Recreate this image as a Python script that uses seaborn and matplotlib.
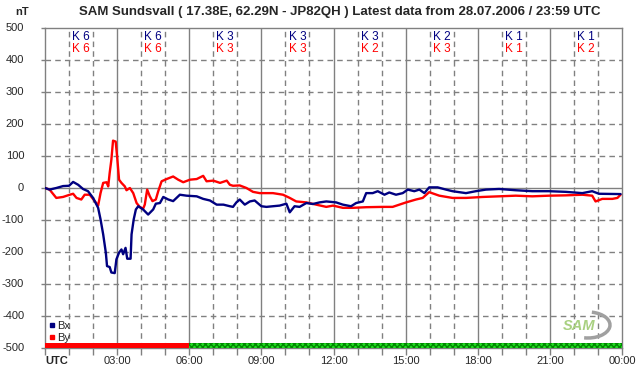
import numpy as np
import pandas as pd
import matplotlib
matplotlib.use('Agg')
import matplotlib.pyplot as plt
import seaborn as sns
from matplotlib.lines import Line2D
from matplotlib.patches import Arc

# Magnetometer readings (hours UTC, nT)
bx_hours = [0.00, 0.19, 0.47, 0.75, 1.00, 1.17, 1.38, 1.58, 1.79, 2.00, 2.21, 2.31, 2.42, 2.53,
            2.58, 2.69, 2.76, 2.90, 2.97, 3.08, 3.18, 3.25, 3.35, 3.42, 3.56, 3.60, 3.69, 3.78,
            3.88, 4.08, 4.29, 4.50, 4.61, 4.78, 4.92, 5.13, 5.33, 5.61, 5.89, 6.31, 6.58, 6.86,
            7.14, 7.42, 7.69, 7.82, 7.96, 8.10, 8.31, 8.52, 8.72, 9.00, 9.21, 9.48, 9.76, 10.04,
            10.18, 10.38, 10.59, 10.87, 11.14, 11.42, 11.70, 12.11, 12.39, 12.73, 12.94, 13.22,
            13.36, 13.63, 13.84, 14.12, 14.32, 14.60, 14.88, 15.09, 15.36, 15.57, 15.78, 15.98,
            16.33, 16.68, 16.95, 17.51, 17.92, 18.34, 18.89, 19.58, 20.27, 20.96, 21.66, 22.35,
            22.76, 23.04, 23.94]
bx_values = [0, -5, 0, 6, 7, 19, 10, -3, -10, -31, -62, -98, -145, -202,
             -244, -247, -264, -266, -223, -202, -192, -207, -187, -221, -221, -145, -98, -67,
             -57, -67, -83, -67, -49, -47, -28, -36, -41, -21, -24, -26, -34, -39,
             -52, -52, -57, -59, -45, -36, -52, -42, -39, -57, -59, -57, -55, -49,
             -76, -57, -59, -47, -50, -45, -42, -45, -52, -57, -47, -42,
             -16, -16, -10, -21, -14, -21, -16, -5, -10, -5, -16, 2,
             2, -5, -10, -16, -10, -5, -3, -7, -10, -10, -12, -16,
             -10, -18, -19]

by_hours = [0.00, 0.19, 0.47, 0.75, 1.03, 1.17, 1.31, 1.51, 1.65, 1.86, 2.07, 2.21, 2.31, 2.42,
            2.56, 2.63, 2.69, 2.76, 2.83, 2.94, 3.00, 3.08, 3.18, 3.32, 3.39, 3.53, 3.67, 3.81,
            3.94, 4.08, 4.15, 4.25, 4.36, 4.47, 4.61, 4.71, 4.85, 5.06, 5.33, 5.54, 5.75, 6.03,
            6.31, 6.58, 6.72, 7.00, 7.28, 7.56, 7.69, 7.82, 8.10, 8.38, 8.65, 8.93, 9.48, 9.90,
            10.18, 10.45, 10.87, 11.28, 11.70, 11.98, 12.39, 12.80, 13.36, 14.05, 14.46, 14.74,
            15.02, 15.43, 15.71, 15.98, 16.40, 16.95, 17.51, 18.20, 18.89, 19.58, 20.27, 20.96,
            21.66, 22.35, 22.76, 22.90, 23.18, 23.60, 23.81, 23.94]
by_values = [0, -5, -31, -28, -21, -18, -31, -36, -21, -21, -41, -55, -16, 16,
             18, 5, 47, 88, 148, 145, 98, 26, 16, 5, -7, 0, -16, -47,
             -59, -65, -52, -5, -26, -41, -36, -10, 21, 28, 36, 26, 18, 26,
             28, 38, 21, 23, 16, 23, 10, 7, 8, 0, -12, -16, -16, -21,
             -31, -42, -45, -52, -59, -55, -62, -62, -60, -59, -59, -52,
             -45, -36, -31, -13, -24, -31, -31, -28, -26, -24, -26, -24,
             -23, -21, -24, -42, -34, -34, -31, -21]

# K indices per 3-hour block
k_bx = [6, 6, 3, 3, 3, 2, 1, 1]
k_by = [6, 6, 3, 3, 2, 3, 1, 2]

# Data status bar along bottom
status_start = [0, 6]
status_end = [6, 24]
status_colors = ['#ff0000', '#22dd22']

hour_labels = ['UTC', '03:00', '06:00', '09:00', '12:00', '15:00', '18:00', '21:00', '00:00']
y_ticks = list(range(-500, 501, 100))

df = pd.concat([
    pd.DataFrame({'hour': bx_hours, 'nT': bx_values, 'comp': 'Bx'}),
    pd.DataFrame({'hour': by_hours, 'nT': by_values, 'comp': 'By'}),
])

sns.set_style('white')
plt.rcParams['font.family'] = ['Liberation Sans', 'DejaVu Sans']

fig = plt.figure(figsize=(6.42, 3.76), dpi=100)
ax = fig.add_axes([45 / 642, 1 - 348 / 376, 577 / 642, 320 / 376])

grid_c = '#808080'
# grid
for h in range(1, 24):
    if h % 3 == 0:
        ax.axvline(h, color=grid_c, lw=1.0, zorder=1)
    else:
        ax.axvline(h, color=grid_c, lw=1.0, ls=(0, (4, 3)), zorder=1)
for v in y_ticks[1:-1]:
    if v == 0:
        ax.axhline(v, color=grid_c, lw=1.0, zorder=1)
    else:
        ax.axhline(v, color=grid_c, lw=1.0, ls=(0, (4, 3)), zorder=1)

sns.lineplot(data=df, x='hour', y='nT', hue='comp', palette={'Bx': '#000080', 'By': '#ff0000'},
             hue_order=['By', 'Bx'], lw=1.7, ax=ax, legend=False, zorder=3, estimator=None, sort=False)

# status bar
for s, e, c in zip(status_start, status_end, status_colors):
    if c == '#ff0000':
        ax.axvspan(s, e, ymin=0, ymax=5 / 320, color=c, lw=0, zorder=4)
    else:
        ax.axvspan(s, e, ymin=0, ymax=5 / 320, facecolor=c, edgecolor='#008800',
                   hatch='xxxxxx', lw=0, zorder=4)

# K labels
for i, (kx, ky) in enumerate(zip(k_bx, k_by)):
    xc = 1.5 + 3 * i
    ax.text(xc, 472, f'K {kx}', color='#000080', ha='center', va='center', fontsize=8.5, zorder=5)
    ax.text(xc, 434, f'K {ky}', color='#ff0000', ha='center', va='center', fontsize=8.5, zorder=5)

ax.set_xlim(0, 24)
ax.set_ylim(-500, 500)
ax.set_xticks(range(0, 25, 3))
ax.set_xticks(range(0, 25), minor=True)
ax.set_xticklabels(hour_labels)
first = ax.get_xticklabels()[0]
first.set_fontweight('bold')
first.set_horizontalalignment('left')
ax.set_yticks(y_ticks)
ax.set_yticklabels([str(v) for v in y_ticks])
ax.tick_params(axis='x', which='both', direction='out', length=5, width=1, color=grid_c,
               labelsize=8, pad=1, bottom=True)
ax.tick_params(axis='y', direction='out', length=3, width=1, color=grid_c, labelsize=8, pad=12, left=True)
for lab in ax.get_yticklabels():
    lab.set_verticalalignment('center')
ax.set_xlabel('')
ax.set_ylabel('')
for sp in ax.spines.values():
    sp.set_color(grid_c)
    sp.set_linewidth(1.0)

# legend
handles = [Line2D([], [], marker='s', ls='', color='#000080', markersize=3),
           Line2D([], [], marker='s', ls='', color='#ff0000', markersize=3)]
ax.legend(handles, ['Bx', 'By'], loc='lower left', bbox_to_anchor=(-0.006, -0.004), frameon=False,
          fontsize=8, handlelength=0.6, handletextpad=0.2, labelspacing=0.15, borderpad=0.1)

# logo
ax.add_patch(Arc((588 / 642, 1 - 325 / 376), 44 / 642, 26 / 376, theta1=-100, theta2=80,
                 transform=fig.transFigure, color='#a0a0a0', lw=2.5, zorder=5))
fig.text(579 / 642, 1 - 326 / 376, 'SAM', fontsize=10.5, style='italic', fontweight='bold',
         color='#a8d080', ha='center', va='center', zorder=6)

fig.text(22 / 642, 1 - 12 / 376, 'nT', fontsize=8, fontweight='bold', ha='center', va='center')
fig.text(340 / 642, 1 - 12 / 376,
         'SAM Sundsvall ( 17.38E, 62.29N - JP82QH ) Latest data from 28.07.2006 / 23:59 UTC',
         fontsize=9.5, fontweight='bold', ha='center', va='center')

fig.savefig('out.png', dpi=100)
